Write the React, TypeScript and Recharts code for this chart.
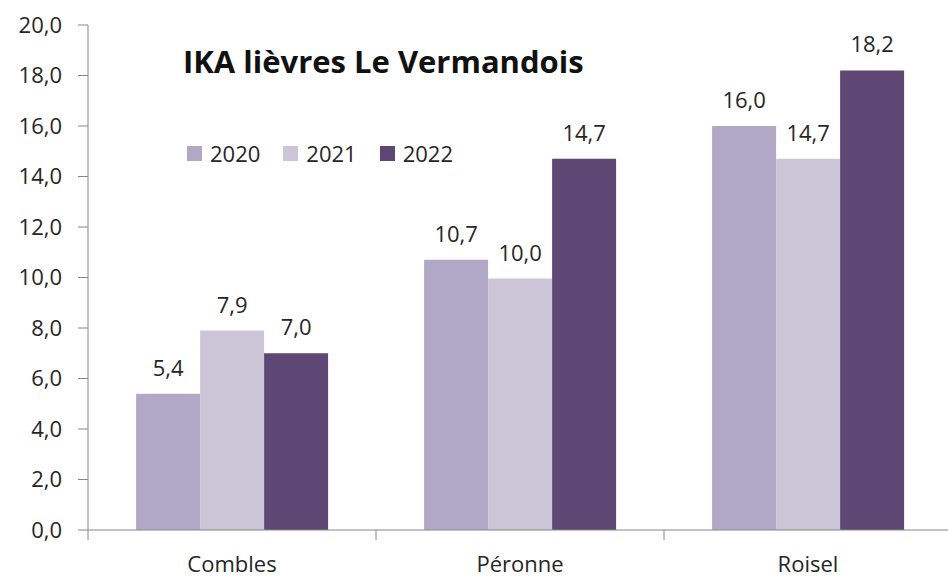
import { BarChart, Bar, XAxis, YAxis, LabelList, Legend } from 'recharts';

const sites = ['Combles', 'Péronne', 'Roisel'];
const ika2020 = [5.4, 10.7, 16.0];
const ika2021 = [7.9, 9.96, 14.7];
const ika2022 = [7.0, 14.7, 18.2];
const yTicks = [0, 2, 4, 6, 8, 10, 12, 14, 16, 18, 20];

const series = [
  { key: 'y2020', name: '2020', color: '#b1a7c6' },
  { key: 'y2021', name: '2021', color: '#ccc5d8' },
  { key: 'y2022', name: '2022', color: '#5e4675' },
];

const data = sites.map((site, i) => ({
  site,
  y2020: ika2020[i],
  y2021: ika2021[i],
  y2022: ika2022[i],
}));

const font = '"Open Sans", sans-serif';
const fmt = (v: any) => Number(v).toFixed(1).replace('.', ',');

function CategoryTick(props: any) {
  const { x, y, payload } = props;
  const half = payload && payload.offset != null ? payload.offset : 144;
  return (
    <g>
      <line x1={x - half} x2={x - half} y1={y - 10} y2={y} stroke="#868686" />
      <text x={x} y={y + 32} textAnchor="middle" fill="#262626" fontSize={22} fontFamily={font}>
        {payload.value}
      </text>
    </g>
  );
}

function LegendBox() {
  return (
    <div style={{ display: 'flex', fontFamily: font, fontSize: 22, color: '#262626' }}>
      {series.map((s) => (
        <div key={s.key} style={{ display: 'flex', alignItems: 'center', marginRight: 23 }}>
          <span style={{ width: 15, height: 15, background: s.color, display: 'inline-block', marginRight: 8 }} />
          <span>{s.name}</span>
        </div>
      ))}
    </div>
  );
}

export default function App() {
  return (
    <div style={{ position: 'fixed', left: 0, top: 0, width: 948, height: 577, overflow: 'hidden', background: '#fff' }}>
      <div
        style={{
          position: 'absolute',
          left: 183,
          top: 40,
          fontFamily: font,
          fontWeight: 700,
          fontSize: 31,
          color: '#111',
          zIndex: 2,
          whiteSpace: 'nowrap',
        }}
      >
        IKA lièvres Le Vermandois
      </div>
      <BarChart
        width={960}
        height={577}
        data={data}
        margin={{ top: 25, right: 8, bottom: 0, left: 0 }}
        barGap={0}
        barCategoryGap="16.7%"
      >
        <XAxis
          dataKey="site"
          height={47}
          tickLine={false}
          tickSize={10}
          tickMargin={0}
          axisLine={{ stroke: '#868686' }}
          tick={<CategoryTick />}
          interval={0}
        />
        <YAxis
          width={88}
          domain={[0, 20]}
          ticks={yTicks}
          interval={0}
          tickFormatter={fmt}
          tickSize={10}
          tickMargin={16}
          axisLine={{ stroke: '#868686' }}
          tickLine={{ stroke: '#868686' }}
          tick={{ fill: '#262626', fontSize: 22, fontFamily: font }}
        />
        <Legend
          verticalAlign="middle"
          align="center"
          wrapperStyle={{ top: 138, left: 187, width: 'auto' }}
          content={<LegendBox />}
        />
        {series.map((s) => (
          <Bar key={s.key} dataKey={s.key} name={s.name} fill={s.color} isAnimationActive={false}>
            <LabelList
              dataKey={s.key}
              position="top"
              offset={18}
              formatter={fmt}
              fill="#262626"
              fontSize={22}
              fontFamily={font}
            />
          </Bar>
        ))}
      </BarChart>
    </div>
  );
}
